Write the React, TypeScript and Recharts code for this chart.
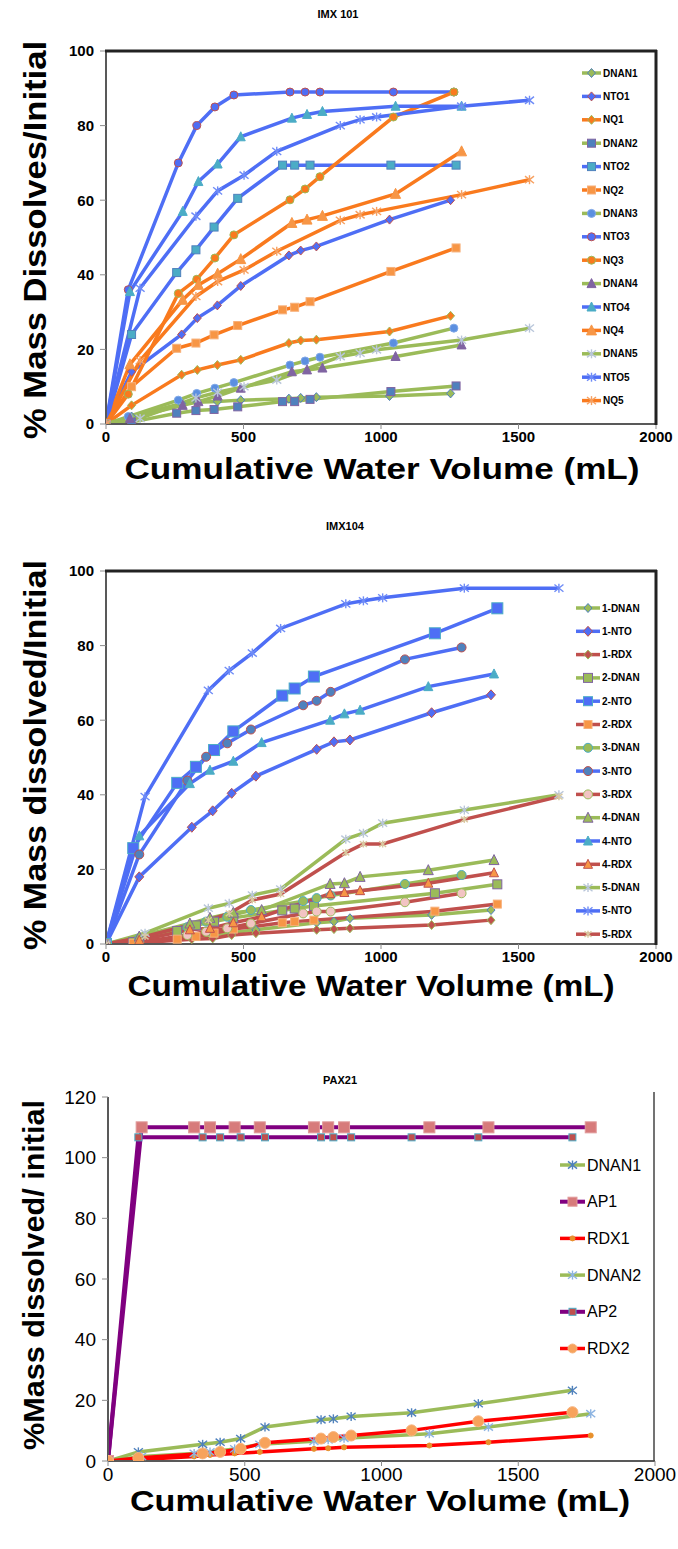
import React from "react"
import { LineChart, Line, XAxis, YAxis } from "recharts"

const FONT = "'Liberation Sans', Arial, sans-serif"
const BLUE = "#4E6EF5"
const ORANGE = "#F97A1E"
const GREEN = "#9BBB59"
const RED = "#C0504D"
const PURPLE = "#800080"
const BRIGHT_RED = "#FF0000"

// ---- IMX 101 ----
const imx101X1 = [0, 93, 275, 332, 405, 490, 665, 708, 765, 1031, 1253]
const imx101X2 = [0, 93, 257, 327, 393, 479, 642, 686, 742, 1036, 1273]
const imx101X3 = [0, 81, 263, 330, 396, 465, 669, 724, 778, 1045, 1265]
const imx101X4 = [0, 87, 279, 336, 406, 490, 676, 731, 787, 1053, 1293]
const imx101X5 = [0, 124, 327, 406, 502, 621, 852, 924, 984, 1293, 1540]

const imx101Dnan1 = [0, 2, 5.5, 5.8, 6, 6.4, 6.8, 7, 7.2, 7.5, 8.2]
const imx101Nto1 = [0, 14, 24, 28.4, 31.8, 37, 45.2, 46.5, 47.6, 54.8, 60]
const imx101Nq1 = [0, 5, 13.2, 14.5, 15.8, 17.2, 21.7, 22.4, 22.6, 24.8, 29]
const imx101Dnan2 = [0, 0.5, 2.9, 3.6, 3.9, 4.6, 6, 6, 6.6, 8.7, 10.2]
const imx101Nto2 = [0, 24, 40.6, 46.7, 52.8, 60.5, 69.4, 69.4, 69.4, 69.4, 69.4]
const imx101Nq2 = [0, 10, 20.3, 21.7, 23.9, 26.4, 30.6, 31.3, 32.8, 40.9, 47.2]
const imx101Dnan3 = [0, 2, 6.4, 8.2, 9.6, 11.1, 15.8, 16.9, 17.9, 21.7, 25.7]
const imx101Nto3 = [0, 36, 70, 80, 85, 88.2, 89, 89, 89, 89, 89]
const imx101Nq3 = [0, 8, 35, 38.8, 44.5, 50.7, 60.1, 63, 66.3, 82.3, 89]
const imx101Dnan4 = [0, 1.5, 5, 6, 7.5, 9.6, 14, 14.5, 15, 18.1, 21.2]
const imx101Nto4 = [0, 35.5, 57, 65, 69.7, 77, 82, 83, 83.8, 85.2, 85.2]
const imx101Nq4 = [0, 16, 33.3, 37.3, 40.3, 44.2, 53.9, 54.8, 55.8, 61.7, 73.1]
const imx101Dnan5 = [0, 1.5, 7, 8.5, 10, 11.8, 18.1, 19, 19.9, 22.5, 25.7]
const imx101Nto5 = [0, 36.4, 55.7, 62.5, 66.7, 73.1, 80, 81.6, 82.3, 85.2, 86.8]
const imx101Nq5 = [0, 17, 34.2, 38.2, 41.3, 46.3, 54.6, 56.1, 57, 61.5, 65.5]

// ---- IMX104 ----
const imx104X1 = [0, 121, 312, 388, 457, 545, 766, 829, 887, 1184, 1400]
const imx104X2 = [0, 99, 259, 327, 393, 463, 641, 686, 756, 1196, 1423]
const imx104X3 = [0, 121, 296, 364, 441, 527, 717, 766, 817, 1087, 1293]
const imx104X4 = [0, 121, 305, 378, 463, 566, 815, 867, 924, 1172, 1411]
const imx104X5 = [0, 142, 372, 448, 532, 635, 872, 936, 1006, 1303, 1647]

const imx104Dnan1 = [0, 0.5, 2, 2.5, 3, 3.8, 5.7, 6, 6.9, 7.8, 9.1]
const imx104Nto1 = [0, 18, 31.3, 35.7, 40.4, 45, 52.2, 54.2, 54.7, 62, 66.8]
const imx104Rdx1 = [0, 0.3, 1.3, 1.5, 2.4, 2.9, 3.8, 4, 4.2, 5.1, 6.4]
const imx104Dnan2 = [0, 0.5, 3.5, 5, 6, 7, 9, 9.5, 10.2, 13.6, 16]
const imx104Nto2 = [0, 25.7, 43.2, 47.5, 52, 57, 66.6, 68.5, 71.7, 83.3, 90]
const imx104Rdx2 = [0, 0.2, 1.3, 2, 2.9, 4, 5.7, 6, 6.4, 8.8, 10.7]
const imx104Dnan3 = [0, 1.5, 4.5, 6, 7.3, 9.1, 11.5, 12.3, 13, 16.1, 18.5]
const imx104Nto3 = [0, 24, 43.8, 50.2, 53.8, 57.5, 64, 65.2, 67.6, 76.3, 79.5]
const imx104Rdx3 = [0, 0.5, 2.4, 3.3, 4.2, 5.5, 8.2, 8.7, 8.7, 11.2, 13.6]
const imx104Dnan4 = [0, 2, 5.5, 7, 8.4, 9.1, 16.1, 16.3, 18, 19.8, 22.5]
const imx104Nto4 = [0, 29, 43, 46.6, 49, 54, 60, 61.7, 62.7, 69, 72.4]
const imx104Rdx4 = [0, 1, 3.8, 4.2, 5.7, 7.3, 13.5, 13.8, 14.3, 16.3, 19.1]
const imx104Dnan5 = [0, 2.9, 9.6, 10.9, 13.1, 14.7, 28.1, 29.7, 32.4, 35.9, 40]
const imx104Nto5 = [0, 39.5, 68, 73.3, 78, 84.6, 91.2, 92, 92.8, 95.4, 95.4]
const imx104Rdx5 = [0, 2, 6.4, 8.2, 11.8, 13.4, 24.5, 26.8, 26.8, 33.4, 39.5]

// ---- PAX21 ----
const pax21X1 = [0, 111, 346, 410, 485, 574, 779, 824, 889, 1110, 1354, 1698]
const pax21X2 = [0, 123, 315, 373, 463, 555, 753, 805, 863, 1175, 1391, 1765]

const pax21Dnan1 = [0, 3, 5.5, 6.2, 7.4, 11.2, 13.6, 13.9, 14.7, 15.9, 18.9, 23.3]
const pax21Ap1 = [0, 110, 110, 110, 110, 110, 110, 110, 110, 110, 110, 110]
const pax21Rdx1 = [0, 0.5, 1.5, 2, 2.5, 3, 4, 4.2, 4.5, 5.1, 6.2, 8.4]
const pax21Dnan2 = [0, 1.5, 2.5, 3, 4, 5.5, 6.5, 7, 7.5, 9, 11.2, 15.6]
const pax21Ap2 = [0, 106.7, 106.7, 106.7, 106.7, 106.7, 106.7, 106.7, 106.7, 106.7, 106.7, 106.7]
const pax21Rdx2 = [0, 1, 2.5, 3, 4, 6, 7.4, 7.9, 8.4, 10.1, 13.1, 16.1]

const xTicks = [0, 500, 1000, 1500, 2000]
const yTicks100 = [0, 20, 40, 60, 80, 100]
const yTicks120 = [0, 20, 40, 60, 80, 100, 120]

type Shape = "diamond" | "square" | "circle" | "triangle" | "star"

type Series = {
  name: string
  xs: number[]
  ys: number[]
  color: string
  shape: Shape
  fill: string
  stroke?: string
  size: number
  width?: number
}

const imx101Series: Series[] = [
  { name: "DNAN1", xs: imx101X1, ys: imx101Dnan1, color: GREEN, shape: "diamond", fill: GREEN, stroke: "#4F81BD", size: 8 },
  { name: "NTO1", xs: imx101X1, ys: imx101Nto1, color: BLUE, shape: "diamond", fill: BLUE, stroke: RED, size: 8 },
  { name: "NQ1", xs: imx101X1, ys: imx101Nq1, color: ORANGE, shape: "diamond", fill: ORANGE, stroke: GREEN, size: 8 },
  { name: "DNAN2", xs: imx101X2, ys: imx101Dnan2, color: GREEN, shape: "square", fill: "#4F81BD", stroke: "#8064A2", size: 8 },
  { name: "NTO2", xs: imx101X2, ys: imx101Nto2, color: BLUE, shape: "square", fill: "#4BACC6", stroke: "#4F81BD", size: 8 },
  { name: "NQ2", xs: imx101X2, ys: imx101Nq2, color: ORANGE, shape: "square", fill: "#F79646", stroke: "#F7B07A", size: 8 },
  { name: "DNAN3", xs: imx101X3, ys: imx101Dnan3, color: GREEN, shape: "circle", fill: "#5B8FE0", stroke: "#7FA8E8", size: 8 },
  { name: "NTO3", xs: imx101X3, ys: imx101Nto3, color: BLUE, shape: "circle", fill: BLUE, stroke: RED, size: 8 },
  { name: "NQ3", xs: imx101X3, ys: imx101Nq3, color: ORANGE, shape: "circle", fill: ORANGE, stroke: GREEN, size: 8 },
  { name: "DNAN4", xs: imx101X4, ys: imx101Dnan4, color: GREEN, shape: "triangle", fill: "#8064A2", stroke: "#8064A2", size: 8 },
  { name: "NTO4", xs: imx101X4, ys: imx101Nto4, color: BLUE, shape: "triangle", fill: "#4BACC6", stroke: "#4BACC6", size: 8 },
  { name: "NQ4", xs: imx101X4, ys: imx101Nq4, color: ORANGE, shape: "triangle", fill: "#F79646", stroke: "#F79646", size: 9 },
  { name: "DNAN5", xs: imx101X5, ys: imx101Dnan5, color: GREEN, shape: "star", fill: "#B9C6DA", size: 9 },
  { name: "NTO5", xs: imx101X5, ys: imx101Nto5, color: BLUE, shape: "star", fill: "#6F8CF7", size: 9 },
  { name: "NQ5", xs: imx101X5, ys: imx101Nq5, color: ORANGE, shape: "star", fill: "#F7A060", size: 9 },
]

const imx104Series: Series[] = [
  { name: "1-DNAN", xs: imx104X1, ys: imx104Dnan1, color: GREEN, shape: "diamond", fill: GREEN, stroke: "#4F81BD", size: 8 },
  { name: "1-NTO", xs: imx104X1, ys: imx104Nto1, color: BLUE, shape: "diamond", fill: BLUE, stroke: RED, size: 9 },
  { name: "1-RDX", xs: imx104X1, ys: imx104Rdx1, color: RED, shape: "diamond", fill: RED, stroke: GREEN, size: 8 },
  { name: "2-DNAN", xs: imx104X2, ys: imx104Dnan2, color: GREEN, shape: "square", fill: GREEN, stroke: "#8064A2", size: 9 },
  { name: "2-NTO", xs: imx104X2, ys: imx104Nto2, color: BLUE, shape: "square", fill: BLUE, stroke: "#4BACC6", size: 11 },
  { name: "2-RDX", xs: imx104X2, ys: imx104Rdx2, color: RED, shape: "square", fill: "#F79646", stroke: "#F7B07A", size: 8 },
  { name: "3-DNAN", xs: imx104X3, ys: imx104Dnan3, color: GREEN, shape: "circle", fill: GREEN, stroke: "#4BACC6", size: 9 },
  { name: "3-NTO", xs: imx104X3, ys: imx104Nto3, color: BLUE, shape: "circle", fill: "#4F81BD", stroke: RED, size: 9 },
  { name: "3-RDX", xs: imx104X3, ys: imx104Rdx3, color: RED, shape: "circle", fill: "#F2C4C3", stroke: GREEN, size: 9 },
  { name: "4-DNAN", xs: imx104X4, ys: imx104Dnan4, color: GREEN, shape: "triangle", fill: GREEN, stroke: "#8064A2", size: 9 },
  { name: "4-NTO", xs: imx104X4, ys: imx104Nto4, color: BLUE, shape: "triangle", fill: "#4BACC6", stroke: "#4BACC6", size: 8 },
  { name: "4-RDX", xs: imx104X4, ys: imx104Rdx4, color: RED, shape: "triangle", fill: "#F79646", stroke: RED, size: 8 },
  { name: "5-DNAN", xs: imx104X5, ys: imx104Dnan5, color: GREEN, shape: "star", fill: "#B9C6DA", size: 9 },
  { name: "5-NTO", xs: imx104X5, ys: imx104Nto5, color: BLUE, shape: "star", fill: "#6F8CF7", size: 9 },
  { name: "5-RDX", xs: imx104X5, ys: imx104Rdx5, color: RED, shape: "star", fill: "#D9C9A0", size: 7 },
]

const pax21Series: Series[] = [
  { name: "DNAN1", xs: pax21X1, ys: pax21Dnan1, color: GREEN, shape: "star", fill: "#4F81BD", size: 9, width: 3.5 },
  { name: "AP1", xs: pax21X2, ys: pax21Ap1, color: PURPLE, shape: "square", fill: "#D77B7B", stroke: "#E09A9A", size: 11, width: 4 },
  { name: "RDX1", xs: pax21X2, ys: pax21Rdx1, color: BRIGHT_RED, shape: "circle", fill: "#E8902B", stroke: "#E8902B", size: 5, width: 3.5 },
  { name: "DNAN2", xs: pax21X2, ys: pax21Dnan2, color: GREEN, shape: "star", fill: "#8DB4E2", size: 9, width: 3.5 },
  { name: "AP2", xs: pax21X1, ys: pax21Ap2, color: PURPLE, shape: "square", fill: "#C0504D", stroke: "#4BACC6", size: 7, width: 4 },
  { name: "RDX2", xs: pax21X1, ys: pax21Rdx2, color: BRIGHT_RED, shape: "circle", fill: "#F7A35C", stroke: "#F7B47E", size: 11, width: 3.5 },
]

const toRows = (xs: number[], ys: number[]) => xs.map((x, i) => ({ x, y: ys[i] }))

function Marker({ shape, x, y, size, fill, stroke }: { shape: Shape; x: number; y: number; size: number; fill: string; stroke?: string }) {
  const r = size / 2
  const sw = 1
  const st = stroke || fill
  if (shape === "diamond") {
    return <polygon points={`${x},${y - r - 0.5} ${x + r},${y} ${x},${y + r + 0.5} ${x - r},${y}`} fill={fill} stroke={st} strokeWidth={sw} />
  }
  if (shape === "square") {
    return <rect x={x - r} y={y - r} width={size} height={size} fill={fill} stroke={st} strokeWidth={sw} />
  }
  if (shape === "circle") {
    return <circle cx={x} cy={y} r={r} fill={fill} stroke={st} strokeWidth={sw} />
  }
  if (shape === "triangle") {
    return <polygon points={`${x},${y - r - 1} ${x + r + 0.5},${y + r} ${x - r - 0.5},${y + r}`} fill={fill} stroke={st} strokeWidth={sw} />
  }
  return (
    <g stroke={fill} strokeWidth={1.4}>
      <line x1={x - r} y1={y - r * 0.8} x2={x + r} y2={y + r * 0.8} />
      <line x1={x - r} y1={y + r * 0.8} x2={x + r} y2={y - r * 0.8} />
      <line x1={x} y1={y - r} x2={x} y2={y + r} />
    </g>
  )
}

type PanelProps = {
  series: Series[]
  top: number
  height: number
  margin: { top: number; right: number; bottom: number; left: number }
  yMax: number
  yTicks: number[]
  tickStyle: any
}

const CHART_W = 678
const Y_AXIS_W = 80
const X_AXIS_H = 50

function Panel({ series, top, height, margin, yMax, yTicks, tickStyle }: PanelProps) {
  return (
    <div style={{ position: "absolute", left: 0, top, width: CHART_W, height }}>
      <LineChart width={CHART_W} height={height} margin={margin}>
        <XAxis
          dataKey="x"
          type="number"
          domain={[0, 2000]}
          ticks={xTicks}
          height={X_AXIS_H}
          axisLine={{ stroke: "#595959", strokeWidth: 2 }}
          tickLine={{ stroke: "#8C8C8C" }}
          tickSize={5}
          tick={tickStyle}
          allowDataOverflow
        />
        <YAxis
          type="number"
          domain={[0, yMax]}
          ticks={yTicks}
          width={Y_AXIS_W}
          axisLine={{ stroke: "#595959", strokeWidth: 2 }}
          tickLine={{ stroke: "#8C8C8C" }}
          tickSize={6}
          tickMargin={6}
          tick={tickStyle}
          allowDataOverflow
        />
        {series.map((s) => (
          <Line
            key={s.name}
            data={toRows(s.xs, s.ys)}
            dataKey="y"
            name={s.name}
            type="linear"
            stroke={s.color}
            strokeWidth={s.width ?? 3.5}
            activeDot={false}
            isAnimationActive={false}
            dot={(p: any) => (
              <Marker key={`${s.name}-${p.index}`} shape={s.shape} x={p.cx} y={p.cy} size={s.size} fill={s.fill} stroke={s.stroke} />
            )}
          />
        ))}
      </LineChart>
    </div>
  )
}

function LegendBlock({ series, x1, x2, textX, y0, step, fontSize, bold }: { series: Series[]; x1: number; x2: number; textX: number; y0: number; step: number; fontSize: number; bold: boolean }) {
  return (
    <g>
      {series.map((s, i) => {
        const y = y0 + i * step
        return (
          <g key={s.name}>
            <line x1={x1} y1={y} x2={x2} y2={y} stroke={s.color} strokeWidth={s.width ?? 3.5} />
            <Marker shape={s.shape} x={(x1 + x2) / 2} y={y} size={Math.min(s.size, 9)} fill={s.fill} stroke={s.stroke} />
            <text x={textX} y={y} dominantBaseline="central" fontSize={fontSize} fontWeight={bold ? "bold" : "normal"} fill="#000">
              {s.name}
            </text>
          </g>
        )
      })}
    </g>
  )
}

export default function App() {
  const boldTick = { fill: "#000", fontSize: 15, fontWeight: "bold", fontFamily: FONT }
  const bigTick = { fill: "#000", fontSize: 19, fontFamily: FONT }
  const label = { fontFamily: FONT, fontWeight: "bold" as const, fill: "#000" }
  return (
    <div style={{ position: "absolute", left: 0, top: 0, width: 678, height: 1549, background: "#fff", fontFamily: FONT }}>
      <Panel
        series={imx101Series}
        top={0}
        height={500}
        margin={{ top: 51, right: 22, bottom: 26, left: 26 }}
        yMax={100}
        yTicks={yTicks100}
        tickStyle={boldTick}
      />
      <Panel
        series={imx104Series}
        top={520}
        height={500}
        margin={{ top: 51, right: 22, bottom: 26, left: 26 }}
        yMax={100}
        yTicks={yTicks100}
        tickStyle={boldTick}
      />
      <Panel
        series={pax21Series}
        top={1040}
        height={509}
        margin={{ top: 57, right: 23, bottom: 38, left: 28 }}
        yMax={120}
        yTicks={yTicks120}
        tickStyle={bigTick}
      />
      <svg width={678} height={1549} style={{ position: "absolute", left: 0, top: 0, pointerEvents: "none" }} fontFamily={FONT}>
        {/* plot frames */}
        <line x1={105} y1={51} x2={657} y2={51} stroke="#222" strokeWidth={3} />
        <line x1={656} y1={50} x2={656} y2={425} stroke="#222" strokeWidth={3} />
        <line x1={105} y1={571} x2={657} y2={571} stroke="#222" strokeWidth={3} />
        <line x1={656} y1={570} x2={656} y2={945} stroke="#222" strokeWidth={3} />
        <line x1={654} y1={1092} x2={654} y2={1461} stroke="#444" strokeWidth={1.5} />

        <text x={338} y={14} textAnchor="middle" dominantBaseline="central" fontSize={11} {...label}>IMX 101</text>
        <text x={345} y={526} textAnchor="middle" dominantBaseline="central" fontSize={11} {...label}>IMX104</text>
        <text x={340} y={1080} textAnchor="middle" dominantBaseline="central" fontSize={11} {...label}>PAX21</text>

        <text x={35} y={240} textAnchor="middle" dominantBaseline="central" fontSize={31} textLength={398} lengthAdjust="spacingAndGlyphs" transform="rotate(-90 35 240)" {...label}>% Mass Dissolves/Initial</text>
        <text x={382} y={468} textAnchor="middle" dominantBaseline="central" fontSize={30} textLength={515} lengthAdjust="spacingAndGlyphs" {...label}>Cumulative Water Volume (mL)</text>

        <text x={35} y={755} textAnchor="middle" dominantBaseline="central" fontSize={31} textLength={390} lengthAdjust="spacingAndGlyphs" transform="rotate(-90 35 755)" {...label}>% Mass dissolved/Initial</text>
        <text x={371} y={985} textAnchor="middle" dominantBaseline="central" fontSize={30} textLength={487} lengthAdjust="spacingAndGlyphs" {...label}>Cumulative Water Volume (mL)</text>

        <text x={33} y={1275} textAnchor="middle" dominantBaseline="central" fontSize={30} textLength={350} lengthAdjust="spacingAndGlyphs" transform="rotate(-90 33 1275)" {...label}>%Mass dissolved/ initial</text>
        <text x={380} y={1500} textAnchor="middle" dominantBaseline="central" fontSize={30} textLength={500} lengthAdjust="spacingAndGlyphs" {...label}>Cumulative Water Volume (mL)</text>

        <LegendBlock series={imx101Series} x1={582} x2={601} textX={603} y0={73} step={23.4} fontSize={10} bold />
        <LegendBlock series={imx104Series} x1={576} x2={600} textX={602} y0={608} step={23.3} fontSize={10} bold />
        <LegendBlock series={pax21Series} x1={560} x2={585} textX={587} y0={1165} step={36.7} fontSize={16} bold={false} />
      </svg>
    </div>
  )
}
